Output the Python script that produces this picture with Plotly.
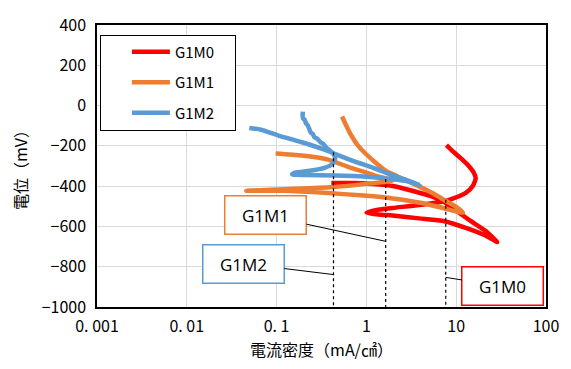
import math
import plotly.graph_objects as go

# ---- data ----
series_names = ["G1M0", "G1M1", "G1M2"]
series_colors = ["#FF0000", "#ED7D31", "#5B9BD5"]

g1m0_x = [7.78, 9.27, 11.3, 13.8, 15.7, 16.5, 15.3, 12.8, 9.27, 7.41, 3.86, 1.96, 1.35, 1.0,
          1.35, 1.96, 3.86, 7.41, 12.8, 21.2, 28.6,
          21.2, 14.6, 10.0, 7.41, 5.35, 3.24, 1.96, 1.19, 0.723, 0.407]
g1m0_y = [-196, -229, -262, -300, -333, -361, -399, -433, -461, -475, -494, -508, -517, -532,
          -541, -546, -560, -574, -607, -645, -678,
          -622, -574, -522, -480, -451, -423, -399, -390, -385, -385]

g1m1_x = [0.535, 0.592, 0.670, 0.798, 0.975, 1.25, 1.65, 2.23, 3.24, 5.35, 7.78, 10.0, 11.9,
          7.78, 4.17, 1.96, 0.927, 0.341, 0.125, 0.046,
          0.161, 0.437, 0.927, 1.96,
          1.35, 0.927, 0.670, 0.367, 0.192, 0.0975]
g1m1_y = [-54, -96, -144, -196, -238, -281, -324, -352, -385, -433, -475, -503, -532,
          -513, -484, -461, -447, -433, -423, -423,
          -413, -404, -390, -371,
          -352, -328, -309, -267, -248, -238]

g1m2_x = [0.196, 0.196, 0.205, 0.212, 0.223, 0.232, 0.240, 0.252, 0.265, 0.285, 0.308, 0.332, 0.358, 0.385, 0.417,
          0.449, 0.417, 0.341, 0.234, 0.161, 0.149,
          0.206, 0.437, 0.927, 1.96, 2.86, 3.96,
          2.86, 1.96, 1.19, 0.723, 0.437, 0.341, 0.192, 0.105, 0.067, 0.0497]
g1m2_y = [-30, -63, -70, -87, -100, -118, -134, -140, -158, -165, -182, -190, -210, -220, -234,
          -262, -290, -309, -324, -333, -342,
          -345, -347, -352, -366, -376, -394,
          -371, -347, -309, -276, -238, -219, -182, -149, -120, -111]

# corrosion current lines (icorr, top potential)
icorr_x = [7.65, 1.64, 0.43]
icorr_top = [-468, -364, -232]
y_bottom = -1000

# label annotations: text, leader-line end potential
label_text = ["G1M0", "G1M1", "G1M2"]
label_y = [-853, -674, -839]

x_tickvals = [0.001, 0.01, 0.1, 1, 10, 100]
x_ticktext = ["0. 001", "0. 01", "0. 1", "1", "10", "100"]
y_tickvals = [400, 200, 0, -200, -400, -600, -800, -1000]

FONT = "Noto Sans CJK JP"

fig = go.Figure()

xs = [g1m0_x, g1m1_x, g1m2_x]
ys = [g1m0_y, g1m1_y, g1m2_y]
for i, name in enumerate(series_names):
    fig.add_trace(go.Scatter(
        x=xs[i], y=ys[i], mode="lines", name=name + "\u3000", legendgroup=name,
        line=dict(color=series_colors[i], width=4.5, shape="spline", smoothing=0.6),
    ))

for xi, yt in zip(icorr_x, icorr_top):
    fig.add_trace(go.Scatter(
        x=[xi, xi], y=[yt, y_bottom], mode="lines", showlegend=False,
        line=dict(color="black", width=1.2, dash="dot"), hoverinfo="skip",
    ))

# offsets of label boxes (pixels) relative to leader-line end
offsets = [(57, 9), (-120, -26), (-90, -11)]
for i in range(3):
    fig.add_annotation(
        x=math.log10(icorr_x[i]), y=label_y[i], xref="x", yref="y",
        text=label_text[i], showarrow=True, arrowhead=0, arrowwidth=1,
        arrowcolor="black", ax=offsets[i][0], ay=offsets[i][1],
        axref="pixel", ayref="pixel",
        bordercolor=series_colors[i], borderwidth=1.5, borderpad=2,
        bgcolor="white", width=76, height=33,
        font=dict(family="Open Sans", size=17, color="black"),
    )

# vertical axis crossing line at x=1
fig.add_shape(type="line", xref="x", yref="paper", x0=0, x1=0, y0=0, y1=1,
              line=dict(color="#A6A6A6", width=1.3), layer="below")

fig.update_xaxes(
    type="log", range=[-3, 2], tickvals=x_tickvals, ticktext=x_ticktext,
    showgrid=True, gridcolor="#D9D9D9", gridwidth=1,
    showline=True, linecolor="black", linewidth=1.5, mirror=True,
    ticks="", ticklabelstandoff=4, tickfont=dict(family=FONT, size=16, color="black"),
    title=dict(text="電流密度（mA/㎠）", font=dict(family=FONT, size=16, color="black"), standoff=9),
)
fig.update_yaxes(
    range=[-1000, 400], tickvals=y_tickvals, ticklabeloverflow="allow",
    showgrid=True, gridcolor="#D9D9D9", gridwidth=1, zeroline=False,
    showline=True, linecolor="black", linewidth=1.5, mirror=True,
    ticks="", ticklabelstandoff=6, tickfont=dict(family=FONT, size=16, color="black"),
    title=dict(text="電位（mV）", font=dict(family=FONT, size=16, color="black"), standoff=10),
)

fig.update_layout(
    width=571, height=369,
    margin=dict(l=97, r=14, t=19, b=56),
    paper_bgcolor="white", plot_bgcolor="white",
    showlegend=True,
    legend=dict(
        x=0.0065, y=0.966, xanchor="left", yanchor="top",
        bgcolor="white", bordercolor="black", borderwidth=1,
        font=dict(family=FONT, size=15, color="black"),
        indentation=26, itemwidth=38, tracegroupgap=8,
    ),
)

# remove the default 8px page margin so the figure sits at the window's origin
fig.write_html(
    "out.html",
    config={"displayModeBar": False},
    post_script="document.body.style.margin='0';document.body.style.overflow='hidden';",
)
